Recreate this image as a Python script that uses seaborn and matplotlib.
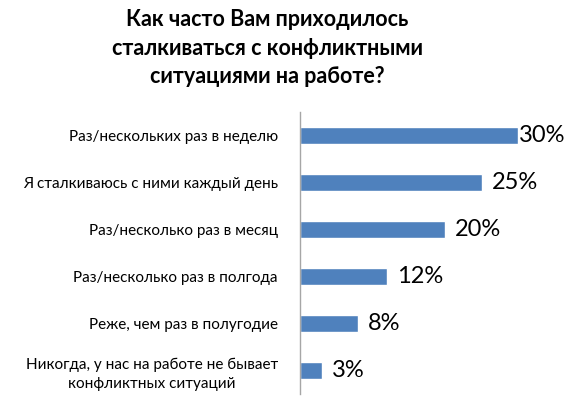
import matplotlib
matplotlib.use("Agg")
import matplotlib.pyplot as plt
import seaborn as sns
import pandas as pd

categories = [
    "Раз/нескольких раз в неделю",
    "Я сталкиваюсь с ними каждый день",
    "Раз/несколько раз в месяц",
    "Раз/несколько раз в полгода",
    "Реже, чем раз в полугодие",
    "Никогда, у нас на работе не бывает\nконфликтных ситуаций",
]
values = [30, 25, 20, 12, 8, 3]
value_labels = ["30%", "25%", "20%", "12%", "8%", "3%"]
title = "Как часто Вам приходилось\nсталкиваться с конфликтными\nситуациями на работе?"

sns.set_theme(style="white")
plt.rcParams["font.family"] = ["Lato", "DejaVu Sans"]

df = pd.DataFrame({"cat": categories, "val": values})

fig = plt.figure(figsize=(5.67, 3.96), dpi=100)
ax = fig.add_axes([300 / 567, 1 - 394 / 396, (518 - 300) / 567, (394 - 112) / 396])

sns.barplot(data=df, y="cat", x="val", orient="h", color="#4F81BD",
            saturation=1, width=0.38, ax=ax)

ax.set_xlim(0, 30)
ax.set_ylim(5.5, -0.5)
ax.set_xlabel("")
ax.set_ylabel("")
ax.set_xticks([])
for s in ["top", "right", "bottom"]:
    ax.spines[s].set_visible(False)
ax.spines["left"].set_color("#A6A6A6")
ax.spines["left"].set_linewidth(1.0)
ax.tick_params(axis="y", length=0, pad=16, labelsize=11, labelcolor="#000000")
for t in ax.get_yticklabels():
    t.set_horizontalalignment("right")
    t.set_multialignment("center")
    t.set_linespacing(1.4)

vmax = max(values)
for i, (v, lab) in enumerate(zip(values, value_labels)):
    off = 1 if v == vmax else 7
    ax.annotate(lab, xy=(v, i), xytext=(off, 0), textcoords="offset points",
                va="center", ha="left", fontsize=17, color="#000000",
                annotation_clip=False)

fig.text(267 / 567, 1 - 9 / 396, title, ha="center", va="top",
         fontsize=15.5, fontweight="bold", linespacing=1.45, color="#000000")

fig.savefig("out.png", dpi=100, facecolor="white")
